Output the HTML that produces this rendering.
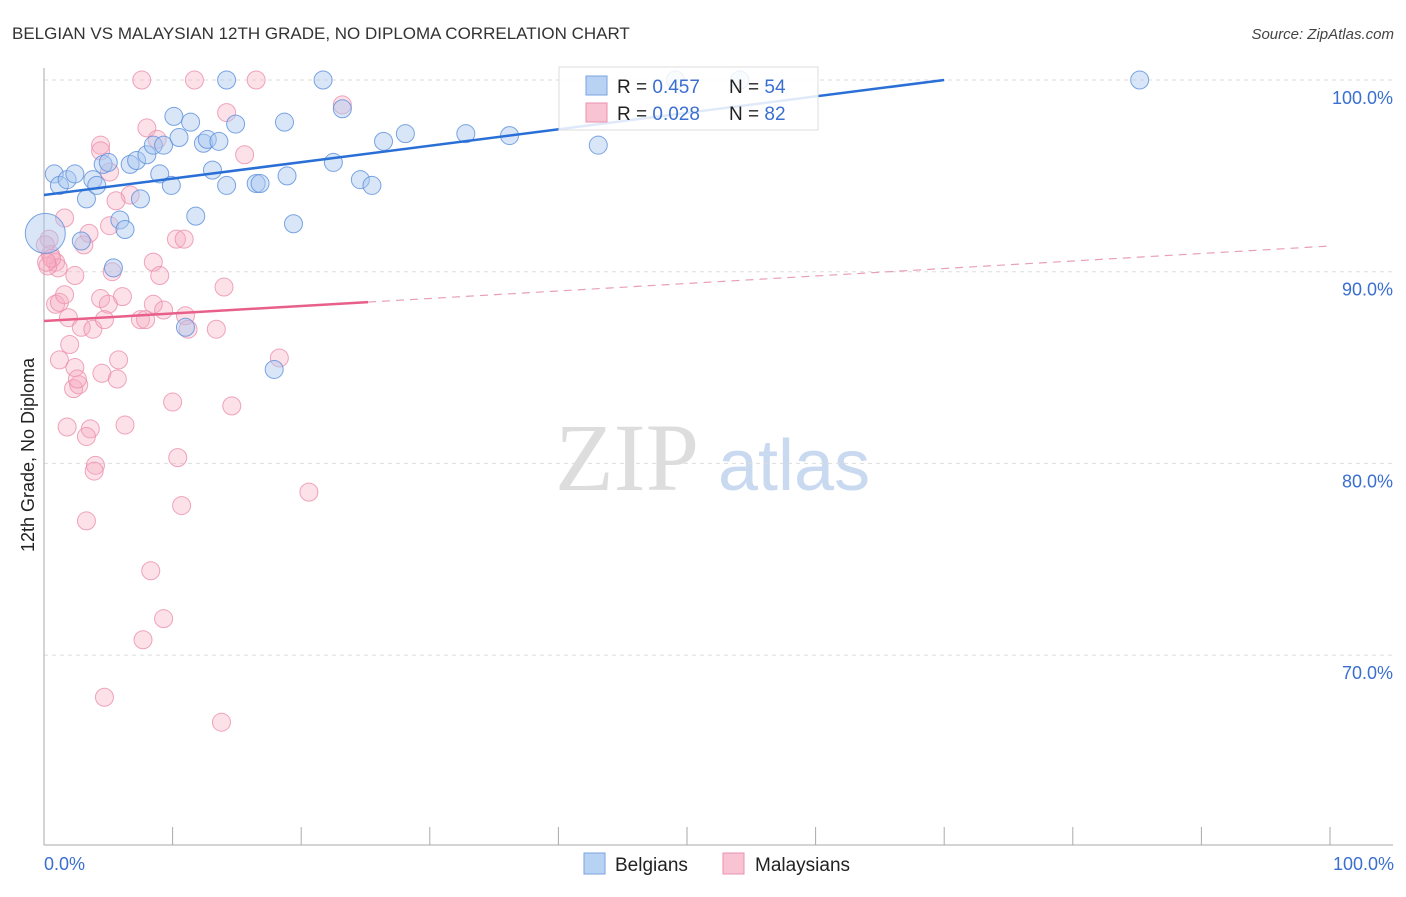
<!DOCTYPE html>
<html><head><meta charset="utf-8"><style>
body{margin:0;background:#fff;font-family:"Liberation Sans",sans-serif}
</style></head><body>
<svg width="1406" height="892" xmlns="http://www.w3.org/2000/svg" font-family="Liberation Sans, sans-serif">
<text x="12" y="39" font-size="17" fill="#333">BELGIAN VS MALAYSIAN 12TH GRADE, NO DIPLOMA CORRELATION CHART</text>
<text x="1394" y="39" font-size="15" fill="#444" font-style="italic" text-anchor="end">Source: ZipAtlas.com</text>
<text x="555" y="490" font-size="96" fill="#ddd" font-family="Liberation Serif, serif">ZIP</text>
<text x="718" y="490" font-size="72" fill="#c9d9f0">atlas</text>
<g id="grid"></g>
<g id="axes"></g>
<g id="marks"></g>
<text transform="translate(34,455) rotate(-90)" font-size="18" fill="#222" text-anchor="middle">12th Grade, No Diploma</text>
<text x="44" y="870" font-size="18" fill="#3a6fd0">0.0%</text>
<text x="1394" y="870" font-size="18" fill="#3a6fd0" text-anchor="end">100.0%</text>
<g>
<rect x="559" y="67" width="259" height="63" fill="#fff" fill-opacity="0.85" stroke="#ddd"/>
<rect x="586" y="76" width="21" height="19" fill="#b8d2f3" stroke="#7aa3e0"/>
<rect x="586" y="103" width="21" height="19" fill="#f8c3d3" stroke="#ea92ad"/>
<text x="617" y="93" font-size="19" fill="#222">R = <tspan fill="#3a6fd0">0.457</tspan><tspan x="729">N = </tspan><tspan fill="#3a6fd0">54</tspan></text>
<text x="617" y="120" font-size="19" fill="#222">R = <tspan fill="#3a6fd0">0.028</tspan><tspan x="729">N = </tspan><tspan fill="#3a6fd0">82</tspan></text>
</g>
<g>
<rect x="584" y="853" width="21" height="21" fill="#b8d2f3" stroke="#7aa3e0"/>
<text x="615" y="871" font-size="19" fill="#222">Belgians</text>
<rect x="723" y="853" width="21" height="21" fill="#f8c3d3" stroke="#ea92ad"/>
<text x="755" y="871" font-size="19" fill="#222">Malaysians</text>
</g>
</svg>
<script>
const yTicks=[100,90,80,70];
const yTickLabels=["100.0%","90.0%","80.0%","70.0%"];
const xTicks=[0,10,20,30,40,50,60,70,80,90,100];
const belgX=[0.8,1.2,1.8,2.4,2.9,3.3,3.8,4.1,4.6,5.0,5.4,5.9,6.3,6.7,7.2,7.5,8.0,8.5,9.0,9.3,9.9,10.1,10.5,11.0,11.4,11.8,12.4,12.7,13.1,13.6,14.2,14.2,14.9,16.5,16.8,17.9,18.7,18.9,19.4,21.7,22.5,23.2,24.6,25.5,26.4,28.1,32.8,36.2,43.1,49.1,54.1,85.2,0.1];
const belgY=[95.1,94.5,94.8,95.1,91.6,93.8,94.8,94.5,95.6,95.7,90.2,92.7,92.2,95.6,95.8,93.8,96.1,96.6,95.1,96.6,94.5,98.1,97.0,87.1,97.8,92.9,96.7,96.9,95.3,96.8,94.5,100.0,97.7,94.6,94.6,84.9,97.8,95.0,92.5,100.0,95.7,98.5,94.8,94.5,96.8,97.2,97.2,97.1,96.6,100.0,100.0,100.0,92.0];
const belgR=[9,9,9,9,9,9,9,9,9,9,9,9,9,9,9,9,9,9,9,9,9,9,9,9,9,9,9,9,9,9,9,9,9,9,9,9,9,9,9,9,9,9,9,9,9,9,9,9,9,9,9,9,20];
const malX=[7.6,11.7,16.5,23.2,14.2,8.0,8.8,4.4,4.4,5.1,15.6,1.6,6.7,5.6,5.1,3.5,3.1,0.4,0.5,0.9,1.1,2.4,5.3,8.5,9.0,10.3,10.9,14.0,0.9,1.2,1.6,4.4,6.1,1.9,5.0,8.5,9.3,2.9,3.8,4.7,7.5,7.9,11.0,11.2,13.4,1.2,2.4,2.0,5.8,4.5,5.7,2.3,2.7,2.6,10.0,14.6,18.3,1.8,3.6,3.3,6.3,10.4,4.0,3.9,10.7,20.6,3.3,8.3,9.3,7.7,4.7,13.8,0.1,0.3,0.6,0.2];
const malY=[100.0,100.0,100.0,98.7,98.3,97.5,96.9,96.6,96.3,95.2,96.1,92.8,94.0,93.7,92.4,92.0,91.4,91.7,90.9,90.5,90.2,89.8,90.0,90.5,89.8,91.7,91.7,89.2,88.3,88.4,88.8,88.6,88.7,87.6,88.3,88.3,88.0,87.1,87.0,87.5,87.5,87.5,87.7,87.0,87.0,85.4,85.0,86.2,85.4,84.7,84.4,83.9,84.1,84.4,83.2,83.0,85.5,81.9,81.8,81.4,82.0,80.3,79.9,79.6,77.8,78.5,77.0,74.4,71.9,70.8,67.8,66.5,91.4,90.3,90.7,90.5];
const belgTrend=[94.0,100.0]; const belgTrendX=[0,70];
const malTrend=[87.43,91.34]; const malSolidEnd=25.2;
const NS="http://www.w3.org/2000/svg";
const X0=44,X1=1330,Y100=80,PX10=191.7;
function sx(v){return X0+(X1-X0)*v/100;}
function sy(v){return Y100+(100-v)/10*PX10;}
function mk(tag,at,parent){const e=document.createElementNS(NS,tag);for(const k in at)e.setAttribute(k,at[k]);document.getElementById(parent).appendChild(e);return e;}
yTicks.forEach((t,i)=>{
 const l=mk('line',{x1:X0,x2:1393,y1:sy(t),y2:sy(t),stroke:'#ddd','stroke-dasharray':'4,4'},'grid');
 
 
 const tx=mk('text',{x:1393,y:sy(t)+24,'font-size':18,fill:'#3a6fd0','text-anchor':'end'},'grid');
 tx.textContent=yTickLabels[i];
 
 
});
const ya=mk('line',{x1:X0,x2:X0,y1:68,y2:845,stroke:'#aaa'},'axes');


const xa=mk('line',{x1:X0,x2:1393,y1:845,y2:845,stroke:'#aaa'},'axes');


xTicks.forEach(t=>{
 const l=mk('line',{x1:sx(t),x2:sx(t),y1:827,y2:845,stroke:'#aaa'},'axes');
 
 
});
malX.forEach((x,i)=>{
 const c=mk('circle',{cx:sx(x),cy:sy(malY[i]),r:9,fill:'#f6a9c0','fill-opacity':0.35,stroke:'#eb8fac','stroke-opacity':0.8,'stroke-width':1},'marks');
 
 
});
belgX.forEach((x,i)=>{
 const c=mk('circle',{cx:sx(x),cy:sy(belgY[i]),r:belgR[i],fill:'#a9c8f0','fill-opacity':0.45,stroke:'#5b8fdb','stroke-opacity':0.8,'stroke-width':1},'marks');
 
 
});
const bl=mk('line',{x1:sx(belgTrendX[0]),y1:sy(belgTrend[0]),x2:sx(belgTrendX[1]),y2:sy(belgTrend[1]),stroke:'#2a6fd6','stroke-width':2.5},'marks');


const mAt=v=>malTrend[0]+(malTrend[1]-malTrend[0])*v/100;
const ms=mk('line',{x1:sx(0),y1:sy(mAt(0)),x2:sx(malSolidEnd),y2:sy(mAt(malSolidEnd)),stroke:'#e8608a','stroke-width':2.5},'marks');


const md=mk('line',{x1:sx(malSolidEnd),y1:sy(mAt(malSolidEnd)),x2:sx(100),y2:sy(mAt(100)),stroke:'#e8a0b6','stroke-width':1.2,'stroke-dasharray':'8,6'},'marks');


</script>
</body></html>
